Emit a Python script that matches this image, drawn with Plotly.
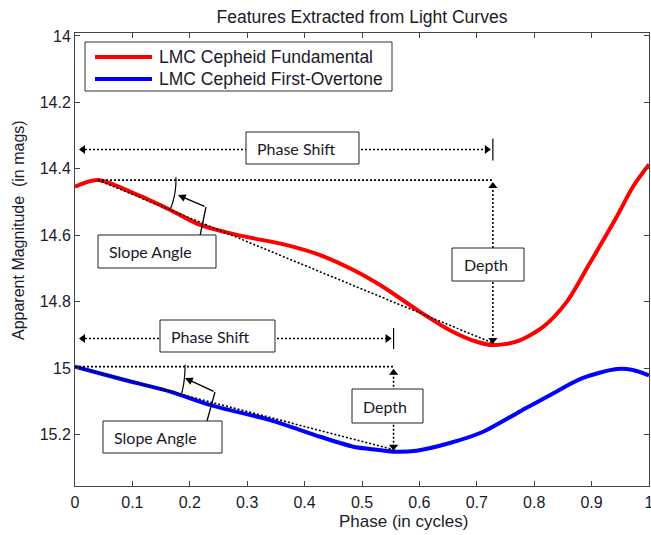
import numpy as np
import plotly.graph_objects as go

# ---------------- data ----------------
series_names = ["LMC Cepheid Fundamental", "LMC Cepheid First-Overtone"]

phase_fund = [0.0, 0.04, 0.10, 0.166, 0.218, 0.282, 0.369, 0.427, 0.485, 0.537,
              0.596, 0.653, 0.70, 0.728, 0.77, 0.815, 0.857, 0.897, 0.944, 0.972, 1.0]
mag_fund = [14.454, 14.434, 14.472, 14.524, 14.569, 14.599, 14.630, 14.660, 14.705, 14.756,
            14.825, 14.886, 14.921, 14.931, 14.920, 14.877, 14.800, 14.684, 14.544, 14.454, 14.387]

phase_first = [0.0, 0.08, 0.166, 0.235, 0.34, 0.427, 0.485, 0.514, 0.555, 0.595,
               0.653, 0.711, 0.77, 0.828, 0.885, 0.944, 0.972, 1.0]
mag_first = [14.996, 15.033, 15.071, 15.111, 15.157, 15.207, 15.237, 15.244, 15.252, 15.249,
             15.226, 15.192, 15.136, 15.081, 15.030, 15.003, 15.006, 15.022]

x_ticks = [0, 0.1, 0.2, 0.3, 0.4, 0.5, 0.6, 0.7, 0.8, 0.9, 1]
x_tick_labels = ["0", "0.1", "0.2", "0.3", "0.4", "0.5", "0.6", "0.7", "0.8", "0.9", "1"]
y_ticks = [14, 14.2, 14.4, 14.6, 14.8, 15, 15.2]
y_tick_labels = ["14", "14.2", "14.4", "14.6", "14.8", "15", "15.2"]

title_text = "Features Extracted from Light Curves"
x_title = "Phase (in cycles)"
y_title = "Apparent Magnitude  (in mags)"

# ---------------- layout geometry ----------------
W, H = 651, 535
ML, MR, MT, MB = 75, 2, 33, 49
PW, PH = W - ML - MR, H - MT - MB
X_RANGE = [0.0, 1.0]
Y_RANGE = [15.3554, 13.991]          # reversed magnitude axis
SX = PW / (X_RANGE[1] - X_RANGE[0])
SY = PH / (Y_RANGE[0] - Y_RANGE[1])
FONT = "Liberation Sans"
TXT = "#1a1a2a"


def px_x(px):
    return X_RANGE[0] + (px - ML) / SX


def px_y(py):
    return Y_RANGE[1] + (py - MT) / SY


def paper_x(px):
    return (px - ML) / PW


def paper_y(py):
    return (MT + PH - py) / PH


DOT = "2px,2px"
fig = go.Figure()

fig.add_trace(go.Scatter(x=phase_fund, y=mag_fund, mode="lines", name=series_names[0],
                         line=dict(color="#ff0000", width=4, shape="spline", smoothing=0.8),
                         showlegend=False, hoverinfo="skip"))
fig.add_trace(go.Scatter(x=phase_first, y=mag_first, mode="lines", name=series_names[1],
                         line=dict(color="#0000ff", width=4, shape="spline", smoothing=0.8),
                         showlegend=False, hoverinfo="skip"))

shapes = []
annotations = []


def dotted(x0, y0, x1, y1):
    shapes.append(dict(type="line", xref="x", yref="y", x0=x0, y0=y0, x1=x1, y1=y1,
                       line=dict(color="black", width=1.6, dash=DOT), layer="above"))


def solid(x0, y0, x1, y1, width=1.3):
    shapes.append(dict(type="line", xref="x", yref="y", x0=x0, y0=y0, x1=x1, y1=y1,
                       line=dict(color="black", width=width), layer="above"))


def label_box(cx_px, cy_px, w, h, text, tx_px=None):
    shapes.append(dict(type="rect", xref="x", yref="y",
                       x0=px_x(cx_px - w / 2), x1=px_x(cx_px + w / 2),
                       y0=px_y(cy_px - h / 2), y1=px_y(cy_px + h / 2),
                       line=dict(color="#222", width=1), fillcolor="white", layer="above"))
    annotations.append(dict(x=px_x(tx_px if tx_px is not None else cx_px), y=px_y(cy_px),
                            xref="x", yref="y", text=text, showarrow=False,
                            font=dict(family="Lato", size=16, color=TXT)))


arrow_pts = {"triangle-left": [], "triangle-right": [], "triangle-up": [], "triangle-down": []}


def features(phase, mag, start_idx, shift_y_px, tick_half):
    ph = np.array(phase)
    mg = np.array(mag)
    i_min = int(np.argmax(mg))                  # faintest point (depth)
    xs, ys = ph[start_idx], mg[start_idx]       # start of descending branch
    xm, ym = ph[i_min], mg[i_min]
    sy = px_y(shift_y_px)
    dotted(px_x(ML + 6), sy, xm - 3 / SX, sy)
    solid(xm, sy - tick_half / SY, xm, sy + tick_half / SY, width=1.2)
    arrow_pts["triangle-left"].append((px_x(ML + 8), sy))
    arrow_pts["triangle-right"].append((xm - 6 / SX, sy))
    dotted(xs, ys, xm, ys)
    dotted(xm, ys + 6 / SY, xm, ym - 5 / SY)
    arrow_pts["triangle-up"].append((xm, ys + 6 / SY))
    arrow_pts["triangle-down"].append((xm, ym - 5 / SY))
    dotted(xs, ys, xm, ym - 2 / SY)
    return xs, ys, xm, ym


def arc(xs, ys, xm, ym, radius, a0):
    cx_px, cy_px = ML + (xs - X_RANGE[0]) * SX, MT + (ys - Y_RANGE[1]) * SY
    ang = np.degrees(np.arctan2((ym - ys) * SY, (xm - xs) * SX))
    th = np.radians(np.linspace(a0, ang - 1, 20))
    shapes.append(dict(type="path", xref="x", yref="y", layer="above",
                       path="M " + " L ".join(f"{px_x(cx_px + radius * np.cos(t))},{px_y(cy_px + radius * np.sin(t))}" for t in th),
                       line=dict(color="black", width=1.2)))


def bent_arrow(bottom, corner, tip):
    solid(px_x(bottom[0]), px_y(bottom[1]), px_x(corner[0]), px_y(corner[1]))
    annotations.append(dict(x=px_x(tip[0]), y=px_y(tip[1]), ax=px_x(corner[0]), ay=px_y(corner[1]),
                            xref="x", yref="y", axref="x", ayref="y", text="", showarrow=True,
                            arrowhead=2, arrowsize=1.1, arrowwidth=1.4, arrowcolor="black"))


# Fundamental
xs, ys, xm, ym = features(phase_fund, mag_fund, 1, 149.5, 11)
arc(xs, ys, xm, ym, 78, -2)
bent_arrow((200, 236), (206, 207), (178, 195))

# First overtone
xs2, ys2, xm2, ym2 = features(phase_first, mag_first, 0, 338.5, 10.5)
arc(xs2, ys2, xm2, ym2, 110, -1)
bent_arrow((207, 421), (215, 392), (185, 378))

# label boxes
label_box(302.5, 148, 113, 32, "Phase Shift", tx_px=296)
label_box(488, 264.5, 72, 33, "Depth", tx_px=486)
label_box(157, 251.5, 118, 33, "Slope Angle", tx_px=150)
label_box(217.5, 336, 115, 32, "Phase Shift", tx_px=210)
label_box(387.5, 406, 71, 34, "Depth", tx_px=385)
label_box(162.5, 437, 119, 32, "Slope Angle", tx_px=155)

for sym, pts in arrow_pts.items():
    fig.add_trace(go.Scatter(x=[p[0] for p in pts], y=[p[1] for p in pts], mode="markers",
                             marker=dict(symbol=sym, size=8, color="black"),
                             showlegend=False, hoverinfo="skip", cliponaxis=False))

# manual legend
shapes.append(dict(type="rect", xref="paper", yref="paper", x0=paper_x(85), x1=paper_x(392),
                   y0=paper_y(91), y1=paper_y(42), line=dict(color="#333", width=1),
                   fillcolor="white", layer="above"))
for name, color, ly in [(series_names[0], "#ff0000", 57), (series_names[1], "#0000ff", 79)]:
    shapes.append(dict(type="line", xref="paper", yref="paper", x0=paper_x(95), x1=paper_x(152),
                       y0=paper_y(ly), y1=paper_y(ly), line=dict(color=color, width=4), layer="above"))
    annotations.append(dict(x=paper_x(157), y=paper_y(ly), xref="paper", yref="paper", text=name,
                            xanchor="left", yanchor="middle", showarrow=False,
                            font=dict(family=FONT, size=17.5, color=TXT)))

# axis titles
annotations.append(dict(x=paper_x(403), y=paper_y(521), xref="paper", yref="paper", text=x_title,
                        xanchor="center", yanchor="middle",
                        showarrow=False, font=dict(family=FONT, size=17, color=TXT)))
annotations.append(dict(x=paper_x(18), y=paper_y(230), xref="paper", yref="paper", text=y_title,
                        xanchor="center", yanchor="middle",
                        showarrow=False, textangle=-90, font=dict(family=FONT, size=16, color=TXT)))

axis_common = dict(showline=True, linecolor="#444", linewidth=1, mirror="ticks", ticks="inside",
                   ticklen=5, tickcolor="#444", showgrid=False, zeroline=False, automargin=False,
                   tickfont=dict(family=FONT, size=16, color=TXT))

fig.update_layout(
    width=W, height=H, margin=dict(l=ML, r=MR, t=MT, b=MB, autoexpand=False),
    paper_bgcolor="white", plot_bgcolor="white",
    title=dict(text=title_text, x=(ML + PW / 2) / W, xanchor="center", xref="container",
               y=1 - 17 / H, yanchor="middle", yref="container",
               font=dict(family=FONT, size=17.5, color=TXT)),
    xaxis=dict(range=X_RANGE, tickvals=x_ticks, ticktext=x_tick_labels, ticklabelstandoff=2,
               ticklabeloverflow="allow", **axis_common),
    yaxis=dict(range=Y_RANGE, tickvals=y_ticks, ticktext=y_tick_labels, **axis_common),
    shapes=shapes, annotations=annotations, showlegend=False,
)

fig.write_html("out.html", config={"displayModeBar": False},
               post_script="document.body.style.margin='0';document.body.style.padding='0';"
                           "document.body.style.overflow='hidden';")
